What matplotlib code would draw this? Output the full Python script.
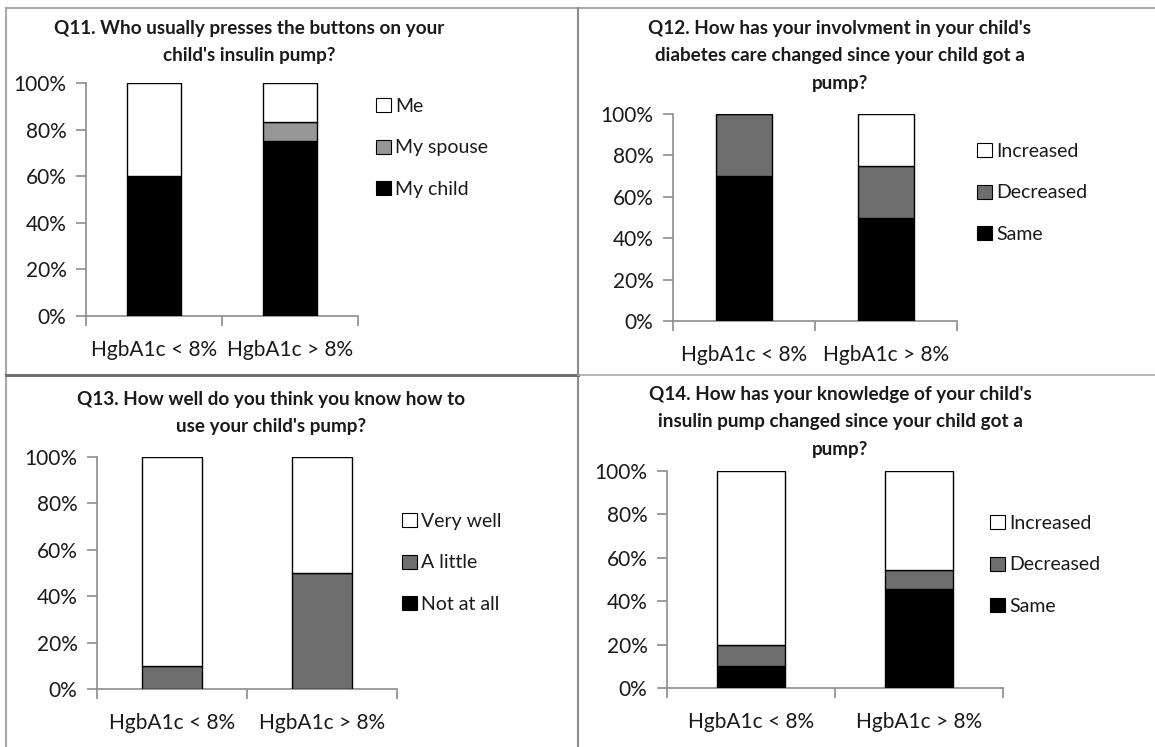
import matplotlib.pyplot as plt
from matplotlib.patches import Patch
from matplotlib.lines import Line2D
from matplotlib.ticker import FuncFormatter

plt.rcParams['font.family'] = ['Lato', 'DejaVu Sans']

groups = ['HgbA1c < 8%', 'HgbA1c > 8%']

q11_title = "Q11. Who usually presses the buttons on your\nchild's insulin pump?"
q11_labels = ['My child', 'My spouse', 'Me']
q11_values = [[60, 75], [0, 8.3], [40, 16.7]]
q11_colors = ['#000000', '#969696', '#ffffff']

q12_title = ("Q12. How has your involvment in your child's\n"
             "diabetes care changed since your child got a\npump?")
q12_labels = ['Same', 'Decreased', 'Increased']
q12_values = [[70, 50], [30, 25], [0, 25]]
q12_colors = ['#000000', '#6e6e6e', '#ffffff']

q13_title = "Q13. How well do you think you know how to\nuse your child's pump?"
q13_labels = ['Not at all', 'A little', 'Very well']
q13_values = [[0, 0], [10, 50], [90, 50]]
q13_colors = ['#000000', '#6e6e6e', '#ffffff']

q14_title = ("Q14. How has your knowledge of your child's\n"
             "insulin pump changed since your child got a\npump?")
q14_labels = ['Same', 'Decreased', 'Increased']
q14_values = [[10, 45.5], [10, 9.1], [80, 45.4]]
q14_colors = ['#000000', '#6e6e6e', '#ffffff']

W, H = 1155, 747
fig = plt.figure(figsize=(W / 100, H / 100), dpi=100)

AX_COLOR = '#8c8c8c'
TXT = '#1a1a1a'


def px_axes(left, right, top, bottom):
    return fig.add_axes([left / W, 1 - bottom / H, (right - left) / W, (bottom - top) / H])


def panel(box, title, title_xy, labels, values, colors, leg_xy):
    ax = px_axes(*box)
    xs = [0.5, 1.5]
    bottom = [0, 0]
    for lab, vals, col in zip(labels, values, colors):
        ax.bar(xs, [v / 100 for v in vals], 0.4, bottom=bottom, color=col,
               edgecolor='black', linewidth=1.0, label=lab, zorder=3)
        bottom = [b + v / 100 for b, v in zip(bottom, vals)]
    ax.set_xlim(0, 2)
    ax.set_ylim(0, 1)
    ax.set_yticks([0, 0.2, 0.4, 0.6, 0.8, 1.0])
    ax.yaxis.set_major_formatter(FuncFormatter(lambda v, p: f'{v * 100:.0f}%'))
    ax.set_xticks(xs)
    ax.set_xticklabels(groups)
    ax.set_xticks([0, 1, 2], minor=True)
    ax.tick_params(axis='x', which='major', length=0, pad=17, labelsize=15, colors=TXT)
    ax.tick_params(axis='x', which='minor', length=7, width=1.2, color=AX_COLOR, direction='out')
    ax.tick_params(axis='y', length=7, width=1.2, color=AX_COLOR, labelsize=15,
                   labelcolor=TXT, pad=7)
    for s in ['top', 'right']:
        ax.spines[s].set_visible(False)
    for s in ['left', 'bottom']:
        ax.spines[s].set_color(AX_COLOR)
        ax.spines[s].set_linewidth(1.2)
    fig.text(title_xy[0] / W, 1 - title_xy[1] / H, title, ha='center', va='top',
             fontsize=13.6, fontweight='bold', linespacing=1.75, color=TXT)
    handles = [Patch(facecolor=c, edgecolor='black', linewidth=0.8, label=l)
               for l, c in zip(labels, colors)][::-1]
    fig.legend(handles=handles, loc='upper left',
               bbox_to_anchor=(leg_xy[0] / W, 1 - leg_xy[1] / H), frameon=False,
               fontsize=14, handlelength=0.75, handleheight=0.75, handletextpad=0.25,
               labelspacing=1.26, borderpad=0, borderaxespad=0, labelcolor=TXT)
    return ax


panel((86, 358, 83, 316), q11_title, (249, 20), q11_labels, q11_values, q11_colors, (376, 98))
panel((673, 957, 114, 321), q12_title, (840, 20), q12_labels, q12_values, q12_colors, (977, 143))
panel((97, 397, 457, 689), q13_title, (271, 391), q13_labels, q13_values, q13_colors, (402, 513))
panel((667, 1003, 471, 688), q14_title, (840, 386), q14_labels, q14_values, q14_colors, (990, 515))


# panel frame lines
def fline(x0, y0, x1, y1, color, lw):
    fig.add_artist(Line2D([x0 / W, x1 / W], [1 - y0 / H, 1 - y1 / H], color=color,
                          linewidth=lw, transform=fig.transFigure))


fline(6, 8, W, 8, '#a8a8a8', 1.5)
fline(6, 8, 6, H, '#a8a8a8', 1.5)
fline(578, 8, 578, H, '#8c8c8c', 1.5)
fline(6, 375, 578, 375, '#707070', 2.2)
fline(578, 375, W, 375, '#a8a8a8', 1.2)

fig.savefig('out.png', dpi=100)
